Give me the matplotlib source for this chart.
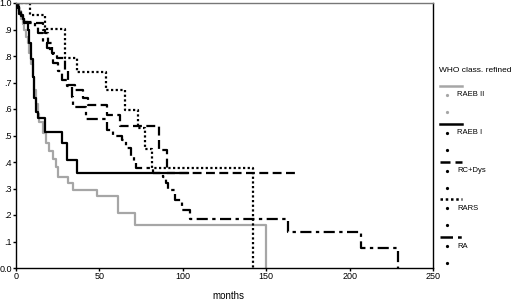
import matplotlib
matplotlib.use("Agg")
import matplotlib.pyplot as plt
from matplotlib.lines import Line2D

plt.rcParams['font.family'] = ['Liberation Sans', 'DejaVu Sans']

# Kaplan-Meier curves (months, cumulative survival)
raeb2_t = [0, 2, 3, 4, 5, 6, 7, 8, 9, 10, 11, 12, 13, 14, 16, 18, 20, 22, 24,
           25.4, 31.4, 34.4, 48.4, 61.4, 71.4, 150]
raeb2_s = [1.0, 0.97, 0.94, 0.92, 0.90, 0.87, 0.85, 0.81, 0.77, 0.72, 0.67, 0.62,
           0.58, 0.55, 0.51, 0.47, 0.44, 0.41, 0.383, 0.345, 0.32, 0.295, 0.27,
           0.207, 0.162, 0.0]

raeb1_t = [0, 1, 2, 3, 4, 5, 7, 8, 9, 10, 11, 12, 13.4, 17.4, 27.4, 30.4, 36.4, 103]
raeb1_s = [1.0, 0.98, 0.96, 0.95, 0.94, 0.93, 0.90, 0.85, 0.79, 0.72, 0.64, 0.59,
           0.566, 0.515, 0.471, 0.408, 0.36, 0.36]

rcdys_t = [0, 1, 2, 3, 4, 5, 16.4, 17.4, 19.4, 21.4, 24.4, 29.4, 31.4, 35.4, 40.4,
           43.4, 54.4, 62.4, 85.8, 90.4, 168]
rcdys_s = [1.0, 0.985, 0.97, 0.955, 0.94, 0.925, 0.90, 0.886, 0.849, 0.811, 0.792,
           0.742, 0.691, 0.672, 0.641, 0.616, 0.578, 0.534, 0.446, 0.358, 0.358]

rars_t = [0, 8.4, 17.4, 29.4, 36.8, 54, 65.4, 73.4, 77.4, 81.4, 142]
rars_s = [1.0, 0.956, 0.902, 0.792, 0.738, 0.67, 0.597, 0.528, 0.45, 0.377, 0.0]

ra_t = [0, 1, 2, 3, 5, 11.4, 13.4, 16.4, 18.4, 20.4, 22.4, 25.4, 27.4, 30.4, 33.4,
        34.4, 42, 54.4, 58.4, 63.4, 66, 69, 71, 72, 82.4, 88.4, 90, 91.4, 95.4,
        99.4, 104.4, 163, 207, 229]
ra_s = [1.0, 0.985, 0.97, 0.955, 0.93, 0.91, 0.886, 0.849, 0.83, 0.811, 0.773,
        0.742, 0.71, 0.685, 0.647, 0.609, 0.562, 0.521, 0.50, 0.484, 0.452, 0.42,
        0.40, 0.377, 0.36, 0.345, 0.32, 0.295, 0.257, 0.219, 0.184, 0.137, 0.076, 0.0]

groups = ["RAEB II", "RAEB I", "RC+Dys", "RARS", "RA"]
xticks = [0, 50, 100, 150, 200, 250]
yticks = [0.0, 0.1, 0.2, 0.3, 0.4, 0.5, 0.6, 0.7, 0.8, 0.9, 1.0]
ytick_labels = ["0.0", ".1", ".2", ".3", ".4", ".5", ".6", ".7", ".8", ".9", "1.0"]

gray = "#a6a6a6"
styles = {
    "RAEB II": dict(color=gray, ls="-"),
    "RAEB I": dict(color="black", ls="-"),
    "RC+Dys": dict(color="black", ls=(0, (4, 2))),
    "RARS": dict(color="black", ls=(0, (1, 1.1))),
    "RA": dict(color="black", ls=(0, (5, 2, 1.5, 2))),
}
curves = {
    "RAEB II": (raeb2_t, raeb2_s),
    "RAEB I": (raeb1_t, raeb1_s),
    "RC+Dys": (rcdys_t, rcdys_s),
    "RARS": (rars_t, rars_s),
    "RA": (ra_t, ra_s),
}

W, H = 520, 304
fig = plt.figure(figsize=(W / 100, H / 100), dpi=100)
ax = fig.add_axes([16 / W, (H - 268) / H, (433 - 16) / W, (268 - 3) / H])

for g in groups:
    t, s = curves[g]
    ax.step(t, s, where="post", lw=1.6, **styles[g])

ax.set_xlim(0, 250)
ax.set_ylim(0, 1.0)
ax.set_xticks(xticks)
ax.set_yticks(yticks)
ax.set_yticklabels(ytick_labels)
ax.tick_params(labelsize=6.5, length=2, width=1, pad=1)
ax.spines["top"].set_color("#777777")
for sp in ax.spines.values():
    sp.set_linewidth(1)

fig.text(228 / W, 1 - 296 / H, "months", fontsize=7, ha="center", va="center")

# legend drawn by hand (SPSS style)
fig.text(439 / W, 1 - 70 / H, "WHO class. refined", fontsize=6.0,
         ha="left", va="center")
for i, g in enumerate(groups):
    ty = 95 + 37.75 * i
    ly = ty - 9
    st = styles[g]
    fig.add_artist(Line2D([440 / W, 462 / W], [1 - ly / H, 1 - ly / H],
                          color=st["color"], ls=st["ls"], lw=1.8))
    fig.add_artist(Line2D([447 / W], [1 - ty / H], marker="o", ms=1.3,
                          color=st["color"], ls="none"))
    fig.add_artist(Line2D([447 / W], [1 - (ty + 17) / H], marker="o", ms=1.3,
                          color=st["color"], ls="none"))
    fig.text(457 / W, 1 - ty / H, g, fontsize=5.5, ha="left", va="center")

fig.savefig("out.png", dpi=100)
